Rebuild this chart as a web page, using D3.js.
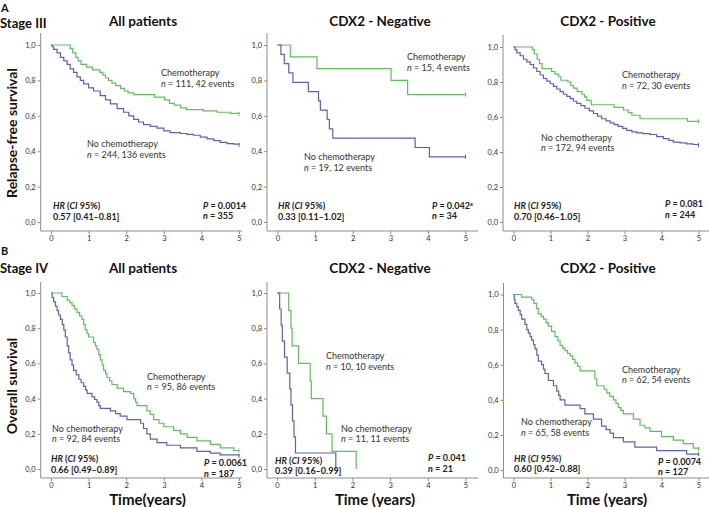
<!DOCTYPE html>
<html><head><meta charset="utf-8">
<script src="https://cdn.jsdelivr.net/npm/d3@7"></script>
<style>
body{margin:0;background:#fff;}
svg{display:block;font-family:Lato,"Open Sans",sans-serif;}
</style></head>
<body><svg id="c" width="709" height="507"></svg>
<script>
// ---------- DATA ----------
const xTicks = [0, 1, 2, 3, 4, 5];
const yTicks = [0, 0.2, 0.4, 0.6, 0.8, 1.0];
const yTickLabels = ["0,0", "0,2", "0,4", "0,6", "0,8", "1,0"];
const panelTitles = ["All patients", "CDX2 - Negative", "CDX2 - Positive", "All patients", "CDX2 - Negative", "CDX2 - Positive"];
const rowLabels = ["Stage III", "Stage IV"];
const rowLetters = ["A", "B"];
const yAxisTitles = ["Relapse-free survival", "Overall survival"];
const xAxisTitles = ["Time(years)", "Time (years)", "Time (years)"];
const chemoLabels = ["n = 111, 42 events", "n = 15, 4 events", "n = 72, 30 events", "n = 95, 86 events", "n = 10, 10 events", "n = 62, 54 events"];
const noChemoLabels = ["n = 244, 136 events", "n = 19, 12 events", "n = 172, 94 events", "n = 92, 84 events", "n = 11, 11 events", "n = 65, 58 events"];
const hrValues = ["0.57 [0.41\u20130.81]", "0.33 [0.11\u20131.02]", "0.70 [0.46\u20131.05]", "0.66 [0.49\u20130.89]", "0.39 [0.16\u20130.99]", "0.60 [0.42\u20130.88]"];
const pValues = ["0.0014", "0.042", "0.081", "0.0061", "0.041", "0.0074"];
const pNotes = ["", "a", "", "", "", ""];
const nTotals = [355, 34, 244, 187, 21, 127];

// Kaplan-Meier step points [time (years), survival]
const s3AllChemo = [[0,1],[0.51,0.98],[0.58,0.955],[0.66,0.93],[0.72,0.91],[0.8,0.89],[0.95,0.875],[1.1,0.86],[1.3,0.845],[1.38,0.83],[1.45,0.815],[1.53,0.80],[1.62,0.785],[1.72,0.77],[1.85,0.755],[1.95,0.74],[2.05,0.73],[2.2,0.72],[2.75,0.705],[3.02,0.69],[3.15,0.67],[3.28,0.66],[3.45,0.645],[3.6,0.635],[4.05,0.628],[4.42,0.62],[4.77,0.614],[5,0.61]];
const s3AllNoChemo = [[0,1],[0.03,0.99],[0.07,0.975],[0.16,0.955],[0.25,0.93],[0.34,0.91],[0.43,0.89],[0.51,0.865],[0.6,0.845],[0.69,0.82],[0.78,0.80],[0.87,0.78],[1.0,0.758],[1.13,0.74],[1.31,0.714],[1.45,0.69],[1.58,0.667],[1.76,0.64],[1.93,0.62],[2.07,0.60],[2.2,0.58],[2.33,0.565],[2.46,0.55],[2.64,0.54],[2.82,0.53],[3.0,0.515],[3.17,0.505],[3.44,0.50],[3.62,0.495],[3.79,0.49],[3.97,0.48],[4.15,0.47],[4.33,0.46],[4.5,0.45],[4.68,0.443],[4.86,0.44],[5,0.436]];
const s3NegChemo = [[0,1],[0.34,0.933],[1.05,0.867],[3.02,0.80],[3.46,0.72],[5,0.72]];
const s3NegNoChemo = [[0,1],[0.09,0.947],[0.18,0.895],[0.3,0.842],[0.41,0.789],[0.82,0.737],[1.09,0.684],[1.14,0.632],[1.32,0.579],[1.38,0.526],[1.47,0.474],[3.66,0.421],[4.04,0.368],[5,0.368]];
const s3PosChemo = [[0,1],[0.51,0.985],[0.56,0.96],[0.64,0.93],[0.7,0.905],[0.77,0.877],[1.03,0.86],[1.12,0.845],[1.22,0.83],[1.28,0.81],[1.47,0.80],[1.55,0.78],[1.62,0.765],[1.72,0.745],[1.85,0.73],[1.92,0.715],[1.98,0.695],[2.1,0.67],[2.72,0.655],[2.97,0.64],[3.1,0.625],[3.2,0.61],[3.42,0.59],[4.4,0.59],[4.7,0.575],[5,0.575]];
const s3PosNoChemo = [[0,1],[0.04,0.985],[0.09,0.967],[0.18,0.95],[0.27,0.93],[0.36,0.915],[0.45,0.90],[0.54,0.88],[0.63,0.86],[0.72,0.84],[0.81,0.82],[0.9,0.805],[0.99,0.79],[1.08,0.775],[1.17,0.76],[1.26,0.745],[1.35,0.73],[1.44,0.718],[1.53,0.705],[1.62,0.69],[1.71,0.678],[1.82,0.665],[1.93,0.65],[2.05,0.635],[2.16,0.62],[2.27,0.605],[2.38,0.59],[2.5,0.578],[2.61,0.566],[2.72,0.556],[2.83,0.547],[2.95,0.535],[3.06,0.524],[3.2,0.515],[3.33,0.509],[3.5,0.505],[3.69,0.50],[3.87,0.488],[4.05,0.476],[4.2,0.466],[4.32,0.457],[4.5,0.452],[4.68,0.447],[4.85,0.443],[5,0.44]];
const s4AllChemo = [[0,1],[0.29,0.98],[0.43,0.96],[0.5,0.945],[0.56,0.93],[0.62,0.91],[0.69,0.89],[0.76,0.87],[0.82,0.85],[0.87,0.82],[0.91,0.79],[0.96,0.77],[1.0,0.75],[1.13,0.72],[1.18,0.70],[1.22,0.68],[1.27,0.65],[1.31,0.62],[1.36,0.59],[1.4,0.56],[1.45,0.54],[1.49,0.52],[1.56,0.50],[1.62,0.48],[1.76,0.46],[1.93,0.44],[2.11,0.43],[2.2,0.40],[2.25,0.38],[2.29,0.36],[2.55,0.33],[2.64,0.31],[2.73,0.28],[2.87,0.26],[3.0,0.24],[3.26,0.22],[3.44,0.20],[3.62,0.18],[3.88,0.16],[4.24,0.14],[4.5,0.12],[4.86,0.105],[5,0.105]];
const s4AllNoChemo = [[0,1],[0.03,0.975],[0.07,0.95],[0.12,0.925],[0.16,0.90],[0.2,0.875],[0.25,0.85],[0.3,0.82],[0.34,0.79],[0.38,0.75],[0.43,0.70],[0.47,0.66],[0.51,0.62],[0.56,0.59],[0.6,0.56],[0.67,0.535],[0.74,0.51],[0.8,0.49],[0.87,0.47],[0.92,0.45],[0.96,0.43],[1.09,0.41],[1.16,0.395],[1.22,0.38],[1.27,0.36],[1.31,0.345],[1.58,0.33],[1.72,0.315],[1.84,0.30],[2.02,0.28],[2.38,0.26],[2.46,0.23],[2.55,0.20],[2.64,0.17],[2.82,0.15],[3.08,0.135],[3.44,0.12],[3.88,0.10],[4.24,0.09],[4.5,0.08],[5,0.075]];
const s4NegChemo = [[0,1],[0.31,0.9],[0.37,0.8],[0.4,0.7],[0.57,0.6],[0.88,0.5],[0.91,0.4],[1.22,0.3],[1.31,0.2],[1.46,0.1],[2.1,0.0]];
const s4NegNoChemo = [[0,1],[0.07,0.909],[0.11,0.818],[0.14,0.727],[0.2,0.636],[0.27,0.545],[0.34,0.455],[0.37,0.364],[0.41,0.273],[0.45,0.182],[0.49,0.091],[1.56,0.0]];
const s4PosChemo = [[0,1],[0.22,0.985],[0.49,0.97],[0.55,0.95],[0.62,0.92],[0.67,0.89],[0.75,0.875],[0.81,0.86],[0.88,0.84],[0.94,0.82],[1.03,0.79],[1.12,0.76],[1.2,0.735],[1.26,0.71],[1.33,0.695],[1.39,0.68],[1.46,0.665],[1.53,0.65],[1.6,0.63],[1.66,0.61],[1.73,0.59],[1.8,0.565],[2.2,0.52],[2.25,0.48],[2.45,0.46],[2.52,0.44],[2.6,0.42],[2.7,0.40],[2.77,0.38],[2.83,0.355],[2.9,0.34],[2.97,0.32],[3.24,0.29],[3.42,0.255],[3.55,0.24],[3.69,0.22],[4.0,0.19],[4.32,0.17],[4.59,0.15],[4.86,0.125],[5,0.12]];
const s4PosNoChemo = [[0,1],[0.02,0.97],[0.04,0.95],[0.09,0.93],[0.13,0.91],[0.18,0.885],[0.22,0.86],[0.31,0.83],[0.36,0.80],[0.4,0.78],[0.45,0.76],[0.49,0.74],[0.54,0.715],[0.58,0.69],[0.63,0.655],[0.67,0.62],[0.76,0.60],[0.81,0.575],[0.85,0.55],[0.94,0.51],[1.08,0.48],[1.17,0.45],[1.22,0.425],[1.26,0.40],[1.39,0.37],[1.8,0.35],[1.93,0.32],[2.16,0.29],[2.38,0.25],[2.5,0.23],[2.61,0.21],[2.7,0.185],[2.97,0.16],[3.28,0.13],[3.87,0.11],[4.68,0.09],[5,0.09]];

// ---------- DRAWING ----------
const svg = d3.select("#c");
const GREEN = "#5fbf5f", BLUE = "#5b62b6", AXIS = "#8c8c8c", TXT = "#333";

const panels = [
  {ax:40.7, x0:51, x5:239, xEnd:242, y0:222, y1:45, axY:231, yTop:33, title:[143,26], data:[s3AllChemo, s3AllNoChemo],
   chemo:[161,76], noChemo:[87,147], hr:[53,209], p:[203,208.5]},
  {ax:267, x0:277.5, x5:465.5, xEnd:478, y0:222, y1:45, axY:231, yTop:33, title:[380,26], data:[s3NegChemo, s3NegNoChemo],
   chemo:[407,60], noChemo:[304,160], hr:[278,209], p:[432,208.5]},
  {ax:503, x0:513.5, x5:698.5, xEnd:709, y0:222, y1:47, axY:231, yTop:35, title:[608,26], data:[s3PosChemo, s3PosNoChemo],
   chemo:[622,78], noChemo:[541,140.5], hr:[514,209], p:[665,207]},
  {ax:40.7, x0:51, x5:239, xEnd:242, y0:469, y1:293, axY:478, yTop:282, title:[143,273], data:[s4AllChemo, s4AllNoChemo],
   chemo:[147,379.5], noChemo:[52,431.5], hr:[51,462], p:[204,466]},
  {ax:267, x0:277, x5:465.5, xEnd:478, y0:469, y1:293, axY:478, yTop:282, title:[380,273], data:[s4NegChemo, s4NegNoChemo],
   chemo:[326,359], noChemo:[341,431.5], hr:[275,463.5], p:[428,461]},
  {ax:503.5, x0:513.5, x5:698.5, xEnd:709, y0:470, y1:294.5, axY:478, yTop:283, title:[608,273], data:[s4PosChemo, s4PosNoChemo],
   chemo:[622,372.5], noChemo:[521,425], hr:[514,461.5], p:[658,464.5]}
];

panels.forEach((p, i) => {
  const x = d3.scaleLinear().domain([0, 5]).range([p.x0, p.x5]);
  const y = d3.scaleLinear().domain([0, 1]).range([p.y0, p.y1]);
  const g = svg.append("g");

  // axes
  const gy = g.append("g").attr("transform", `translate(${p.ax},0)`)
    .call(d3.axisLeft(y).tickValues(yTicks).tickFormat((d, k) => yTickLabels[k]).tickSize(3).tickPadding(2));
  gy.select(".domain").remove();
  const gx = g.append("g").attr("transform", `translate(0,${p.axY})`)
    .call(d3.axisBottom(x).tickValues(xTicks).tickFormat(d3.format("d")).tickSize(3).tickPadding(2));
  gx.select(".domain").remove();
  [gx, gy].forEach(a => {
    a.selectAll("line").attr("stroke", AXIS);
    a.selectAll("text").attr("fill", TXT).style("font-size", "7.5px").style("font-family", "Lato, sans-serif");
  });
  g.append("line").attr("x1", p.ax).attr("x2", p.ax).attr("y1", p.yTop).attr("y2", p.axY).attr("stroke", AXIS);
  g.append("line").attr("x1", p.ax).attr("x2", p.xEnd).attr("y1", p.axY).attr("y2", p.axY).attr("stroke", AXIS);

  // curves
  const line = d3.line().x(d => x(d[0])).y(d => y(d[1])).curve(d3.curveStepAfter);
  [[p.data[0], GREEN], [p.data[1], BLUE]].forEach(([d, col]) => {
    g.append("path").attr("d", line(d)).attr("fill", "none").attr("stroke", col).attr("stroke-width", 1.2);
    const last = d[d.length - 1];
    if (last[1] > 0) {
      g.append("line").attr("x1", x(last[0])).attr("x2", x(last[0]))
        .attr("y1", y(last[1]) - 2).attr("y2", y(last[1]) + 2).attr("stroke", col).attr("stroke-width", 1);
    }
  });

  // title
  g.append("text").attr("x", p.title[0]).attr("y", p.title[1]).attr("text-anchor", "middle")
    .style("font-size", "13.5px").style("font-weight", "bold").attr("fill", "#111").text(panelTitles[i]);

  // group annotations
  const ann = (pos, head, sub) => {
    const t = g.append("text").attr("x", pos[0]).attr("y", pos[1]).style("font-size", "9px").attr("fill", TXT);
    t.text(head);
    const t2 = g.append("text").attr("x", pos[0]).attr("y", pos[1] + 10.5).style("font-size", "9px").attr("fill", TXT);
    t2.append("tspan").style("font-style", "italic").text("n");
    t2.append("tspan").text(sub.slice(1));
  };
  ann(p.chemo, "Chemotherapy", chemoLabels[i]);
  ann(p.noChemo, "No chemotherapy", noChemoLabels[i]);

  // HR block
  const hr = g.append("text").attr("x", p.hr[0]).attr("y", p.hr[1]).style("font-size", "9px").style("font-weight", "bold").attr("fill", "#222");
  hr.append("tspan").style("font-style", "italic").text("HR");
  hr.append("tspan").text(" (");
  hr.append("tspan").style("font-style", "italic").text("CI");
  hr.append("tspan").text(" 95%)");
  g.append("text").attr("x", p.hr[0]).attr("y", p.hr[1] + 10.5).style("font-size", "9px").style("font-weight", "bold").attr("fill", "#222").text(hrValues[i]);

  // P / n block
  const pt = g.append("text").attr("x", p.p[0]).attr("y", p.p[1]).style("font-size", "9px").style("font-weight", "bold").attr("fill", "#222");
  pt.append("tspan").style("font-style", "italic").text("P");
  pt.append("tspan").text(" = " + pValues[i]);
  if (pNotes[i]) pt.append("tspan").attr("dy", -3).style("font-size", "6px").text(pNotes[i]);
  const nt = g.append("text").attr("x", p.p[0]).attr("y", p.p[1] + 10.5).style("font-size", "9px").style("font-weight", "bold").attr("fill", "#222");
  nt.append("tspan").style("font-style", "italic").text("n");
  nt.append("tspan").text(" = " + nTotals[i]);
});

// row letters and labels
[11.5, 255].forEach((yy, r) => {
  svg.append("text").attr("x", 1).attr("y", yy).style("font-size", "11px").style("font-weight", "bold").attr("fill", "#111").text(rowLetters[r]);
});
[27.5, 273].forEach((yy, r) => {
  svg.append("text").attr("x", 0).attr("y", yy).style("font-size", "13px").style("font-weight", "bold").attr("fill", "#111").text(rowLabels[r]);
});
// y-axis titles
[133, 386].forEach((yy, r) => {
  svg.append("text").attr("transform", `translate(17,${yy}) rotate(-90)`).attr("text-anchor", "middle")
    .style("font-size", "14px").style("font-weight", "bold").attr("fill", "#111").text(yAxisTitles[r]);
});
// x-axis titles (bottom row)
[147.5, 375, 607].forEach((xx, c) => {
  svg.append("text").attr("x", xx).attr("y", 505).attr("text-anchor", "middle")
    .style("font-size", "15px").style("font-weight", "bold").attr("fill", "#111").text(xAxisTitles[c]);
});
</script></body></html>
